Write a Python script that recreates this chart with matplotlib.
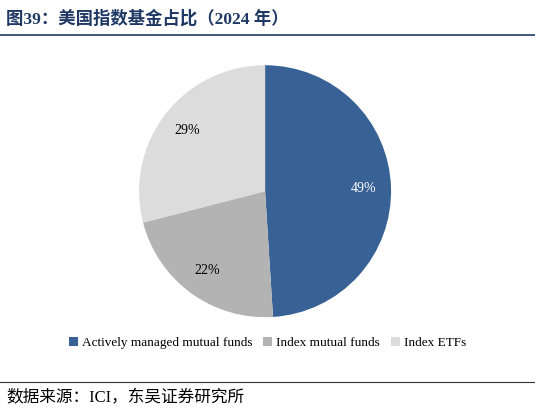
import matplotlib
matplotlib.use("Agg")
import matplotlib.pyplot as plt
from matplotlib.patches import Patch
from matplotlib.lines import Line2D
import numpy as np

labels = ["Actively managed mutual funds", "Index mutual funds", "Index ETFs"]
values = [49, 22, 29]
colors = ["#386195", "#b3b3b3", "#dcdcdc"]
fam = ["Liberation Serif", "Noto Sans CJK SC"]

fig = plt.figure(figsize=(5.35, 4.13), dpi=100)
fig.text(0.012, 0.955, "图39：美国指数基金占比（2024 年）", family=fam, fontsize=12.5,
         fontweight="bold", color="#1f3864", va="center")
fig.add_artist(Line2D([0.0, 1.0], [0.915, 0.915], color="#1f3864", lw=1.2))
fig.add_artist(Line2D([0.0, 1.0], [0.075, 0.075], color="#333333", lw=0.8))
fig.text(0.012, 0.035, "数据来源：ICI，东吴证券研究所", family=fam, fontsize=12, va="center")

ax = fig.add_axes([0.26, 0.232, 0.471, 0.61])
wedges, texts = ax.pie(values, colors=colors, startangle=90, counterclock=False,
                       wedgeprops=dict(linewidth=0))
for w, v in zip(wedges, values):
    mid = np.deg2rad((w.theta1 + w.theta2) / 2)
    ax.text(0.78 * np.cos(mid), 0.78 * np.sin(mid), f"{v}%", ha="center", va="center",
            family=fam, fontsize=10, color="white" if v == 49 else "black")
ax.set_xlim(-1, 1)
ax.set_ylim(-1, 1)
ax.set_aspect("equal")

handles = [Patch(facecolor=c, edgecolor="none") for c in colors]
fig.legend(handles, labels, loc="center", bbox_to_anchor=(0.5, 0.17), ncol=3, frameon=False,
           prop={"family": fam, "size": 9.5}, handlelength=0.7, handleheight=0.7,
           columnspacing=0.8, handletextpad=0.3)
fig.savefig("out.png", dpi=100)
